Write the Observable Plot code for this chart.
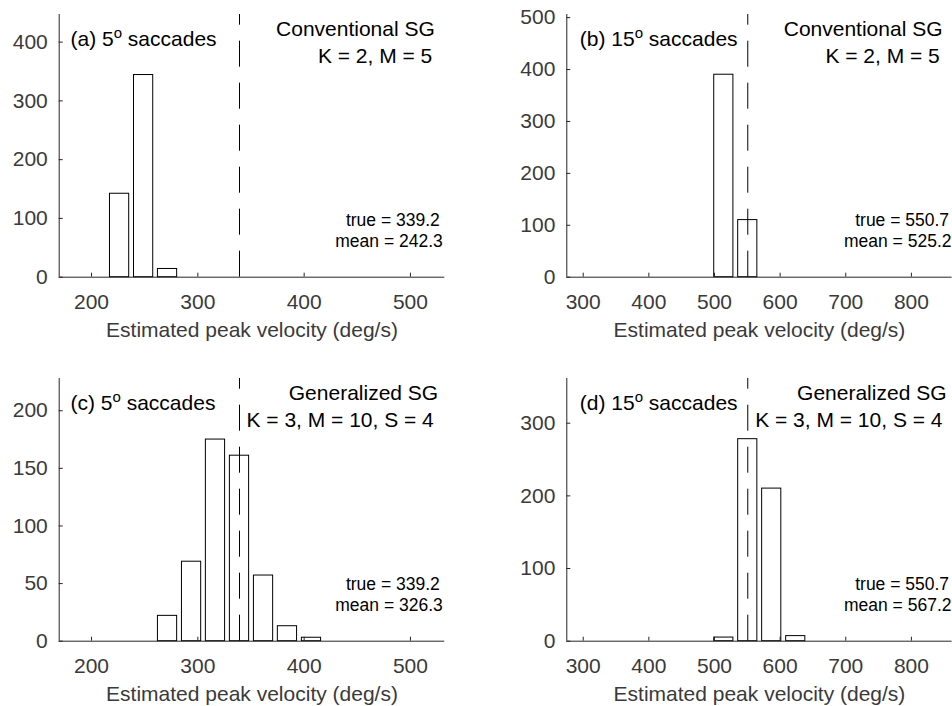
<!DOCTYPE html>
<html><head><meta charset="utf-8">
<script src="https://cdn.jsdelivr.net/npm/d3@7"></script>
<script src="https://cdn.jsdelivr.net/npm/@observablehq/plot@0.6"></script>
<style>
body{margin:0;background:#fff;}
#fig{position:relative;width:952px;height:706px;font-family:"Liberation Sans",Arial,Helvetica,sans-serif;}
#fig svg{position:absolute;overflow:visible;}
</style></head><body><div id="fig"></div>
<script>
// ---------------- data ----------------
const binCenters5 = [226.4, 249.0, 271.5, 294.1, 316.6, 339.2, 361.8, 384.3, 406.9];
const binCenters15 = [514.2, 550.7, 587.2, 623.8];
const countsA = [142, 344, 14, 0, 0, 0, 0, 0, 0];
const countsB = [390, 110, 0, 0];
const countsC = [0, 0, 22, 69, 175, 161, 57, 13, 3];
const countsD = [5, 278, 210, 7];
const trueValues = [339.2, 550.7, 339.2, 550.7];
const meanValues = [242.3, 525.2, 326.3, 567.2];
const panelLabels = ["(a) 5", "(b) 15", "(c) 5", "(d) 15"];
const supText = "o";
const saccadeText = " saccades";
const methodNames = ["Conventional SG", "Conventional SG", "Generalized SG", "Generalized SG"];
const methodParams = ["K = 2, M = 5", "K = 2, M = 5", "K = 3, M = 10, S = 4", "K = 3, M = 10, S = 4"];
const xTicks5 = [200, 300, 400, 500];
const xTicks15 = [300, 400, 500, 600, 700, 800];
const yTicksA = [0, 100, 200, 300, 400];
const yTicksB = [0, 100, 200, 300, 400, 500];
const yTicksC = [0, 50, 100, 150, 200];
const yTicksD = [0, 100, 200, 300];
const xDomain5 = [169.6, 532.3];
const xDomain15 = [275, 862];
const yMaxes = [447, 506, 228, 361.5];
const xLabel = "Estimated peak velocity (deg/s)";

// ---------------- panel setup ----------------
const panels = [
  {centers: binCenters5, counts: countsA, xTicks: xTicks5, yTicks: yTicksA, xDomain: xDomain5},
  {centers: binCenters15, counts: countsB, xTicks: xTicks15, yTicks: yTicksB, xDomain: xDomain15},
  {centers: binCenters5, counts: countsC, xTicks: xTicks5, yTicks: yTicksC, xDomain: xDomain5},
  {centers: binCenters15, counts: countsD, xTicks: xTicks15, yTicks: yTicksD, xDomain: xDomain15}
];
const layout = [
  {left: 0,   top: 0,   ml: 58.7, mr: 31.7, labDx: 11.3, nameDx: -10, parDx: -12.5, statDx: [-5, -2]},
  {left: 476, top: 0,   ml: 90.3, mr: 0.4,  labDx: 13,   nameDx: -9.6, parDx: -12.3, statDx: [-3, -0.6]},
  {left: 0,   top: 364, ml: 58.7, mr: 31.7, labDx: 11.3, nameDx: -6.6, parDx: -11, statDx: [-5, -2]},
  {left: 476, top: 364, ml: 90.3, mr: 0.4,  labDx: 13,   nameDx: -5.6, parDx: -9.6, statDx: [-3, -0.6]}
];
const FONT = '"Liberation Sans", Arial, Helvetica, sans-serif';
const AX = "#262626";
const BIG = 21;
const SMALL = 17.5;
const fig = document.getElementById("fig");

panels.forEach((p, i) => {
  const L = layout[i];
  const bins = p.centers.map((c, k) => ({center: c, count: p.counts[k]})).filter(d => d.count > 0);
  const halfW = 0.4 * (p.centers[1] - p.centers[0]);
  const yMax = yMaxes[i];
  const fullLabel = panelLabels[i] + supText + saccadeText;
  const svg = Plot.plot({
    width: 476, height: 342,
    marginLeft: L.ml, marginRight: L.mr, marginTop: 14, marginBottom: 65.3,
    style: {fontFamily: FONT, fontSize: BIG + "px", color: AX, background: "transparent", overflow: "visible"},
    x: {domain: p.xDomain},
    y: {domain: [0, yMax]},
    marks: [
      Plot.rect(bins, {x1: d => d.center - halfW, x2: d => d.center + halfW, y1: 0, y2: "count",
        fill: "white", stroke: "black", strokeWidth: 1}),
      Plot.ruleX([trueValues[i]], {y1: 0, y2: yMax, stroke: "black", strokeWidth: 1, strokeDasharray: "26,16"}),
      Plot.ruleY([0], {stroke: AX, strokeWidth: 1}),
      Plot.ruleX([p.xDomain[0]], {stroke: AX, strokeWidth: 1}),
      Plot.axisX({ticks: p.xTicks, tickSize: -4, tickPadding: 21, label: null, fontSize: BIG, color: AX, fill: "#3a3a3a"}),
      Plot.axisY({ticks: p.yTicks, tickSize: -4, tickPadding: 15.4, label: null, fontSize: BIG, color: AX, fill: "#3a3a3a"}),
      Plot.text([xLabel], {frameAnchor: "bottom", dy: 59.5, lineAnchor: "bottom", fontSize: BIG, fill: "#3a3a3a"}),
      Plot.text([fullLabel], {frameAnchor: "top-left", dx: L.labDx, dy: 31.7, textAnchor: "start", lineAnchor: "bottom", fontSize: BIG, fill: "black"}),
      Plot.text([methodNames[i]], {frameAnchor: "top-right", dx: L.nameDx, dy: 21.7, textAnchor: "end", lineAnchor: "bottom", fontSize: BIG, fill: "black"}),
      Plot.text([methodParams[i]], {frameAnchor: "top-right", dx: L.parDx, dy: 48.7, textAnchor: "end", lineAnchor: "bottom", fontSize: BIG, fill: "black"}),
      Plot.text([`true = ${trueValues[i].toFixed(1)}`], {frameAnchor: "bottom-right", dx: L.statDx[0], dy: -51.7, textAnchor: "end", lineAnchor: "bottom", fontSize: SMALL, fill: "black"}),
      Plot.text([`mean = ${meanValues[i].toFixed(1)}`], {frameAnchor: "bottom-right", dx: L.statDx[1], dy: -30.7, textAnchor: "end", lineAnchor: "bottom", fontSize: SMALL, fill: "black"})
    ]
  });
  svg.style.left = L.left + "px";
  svg.style.top = L.top + "px";
  // superscript "o"
  svg.querySelectorAll("text").forEach(t => {
    if (t.textContent === fullLabel) {
      t.textContent = "";
      const ns = "http://www.w3.org/2000/svg";
      const a = document.createElementNS(ns, "tspan"); a.textContent = panelLabels[i];
      const b = document.createElementNS(ns, "tspan"); b.textContent = supText;
      b.setAttribute("dy", "-8.5"); b.setAttribute("font-size", "15");
      const c = document.createElementNS(ns, "tspan"); c.textContent = saccadeText;
      c.setAttribute("dy", "8.5");
      t.append(a, b, c);
    }
  });
  fig.appendChild(svg);
});
</script></body></html>
